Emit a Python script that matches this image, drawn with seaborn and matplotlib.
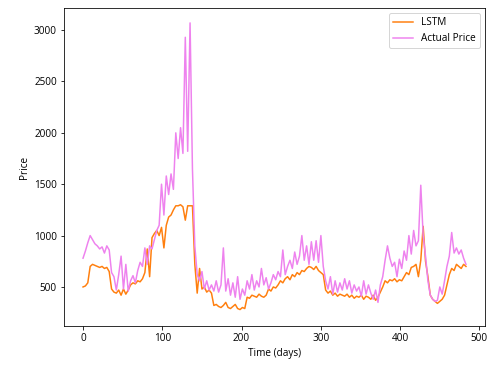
import numpy as np
import pandas as pd
import matplotlib
matplotlib.use("Agg")
import matplotlib.pyplot as plt
import seaborn as sns

# Sampled every 3 days (day 0 .. 483)
days = list(range(0, 484, 3))

actual_price = [
    780, 850, 930, 1000, 960, 920, 900, 870, 890, 830,
    900, 860, 640, 600, 470, 620, 800, 480, 720, 460,
    560, 610, 540, 660, 740, 700, 880, 720, 900, 870,
    960, 1050, 1100, 1500, 1200, 1580, 1400, 1600, 1450, 2000,
    1750, 2050, 1800, 2930, 1820, 3070, 1650, 900, 620, 560,
    650, 480, 560, 470, 520, 460, 560, 450, 520, 880,
    460, 580, 420, 540, 400, 600, 380, 480, 420, 560,
    480, 620, 470, 560, 500, 680, 520, 590, 480, 540,
    620, 570, 650, 600, 860, 620, 700, 760, 680, 840,
    720, 800, 1000, 760, 900, 720, 940, 760, 950, 740,
    1000, 700, 560, 480, 600, 430, 560, 450, 540, 470,
    580, 480, 560, 440, 520, 460, 500, 410, 560, 430,
    520, 440, 380, 470, 350, 520, 600, 760, 900, 780,
    700, 740, 600, 770, 680, 850, 760, 1000, 820, 1050,
    900, 950, 1490, 1000, 800, 560, 420, 380, 360, 370,
    500, 430, 560, 700, 800, 1030, 830, 880, 820, 860,
    780, 720,
]

lstm_pred = [
    500, 510, 540, 700, 720, 710, 700, 690, 700, 680,
    690, 650, 480, 450, 440, 470, 420, 480, 430, 470,
    520, 540, 530, 560, 550, 580, 640, 870, 600, 980,
    1020, 1050, 1000, 1080, 880, 1100, 1180, 1200, 1250, 1290,
    1290, 1300, 1280, 1150, 1290, 1290, 1290, 720, 440, 680,
    480, 500, 450, 470, 440, 320, 330, 310, 300, 320,
    350, 300, 290, 310, 330, 290, 280, 300, 290, 400,
    390, 420, 410, 400, 430, 410, 400, 420, 480, 460,
    500, 490, 520, 560, 540, 580, 600, 570, 620, 600,
    640, 620, 660, 650, 680, 700, 690, 670, 700, 660,
    640, 620, 470, 440, 460, 420, 440, 410, 430, 420,
    410, 430, 400, 420, 390, 410, 400, 420, 380, 410,
    400, 380, 420, 370, 400, 450, 500, 560, 540, 570,
    560, 580, 550, 570, 560, 600, 640, 620, 690, 700,
    720, 600, 760, 1090, 750, 600, 420, 380, 360, 340,
    360, 380, 420, 520, 620, 680, 660, 720, 700, 680,
    720, 700,
]

plt.rcParams['font.family'] = ['Open Sans', 'DejaVu Sans']
plt.rcParams['font.size'] = 10

df = pd.DataFrame({"day": days, "LSTM": lstm_pred, "Actual Price": actual_price})

fig = plt.figure(figsize=(488 / 72, 373 / 72), dpi=72)
ax = fig.add_axes([64 / 488, 1 - 326 / 373, (485 - 64) / 488, (326 - 8) / 373])

sns.lineplot(data=df, x="day", y="LSTM", ax=ax, color="#ff7f0e", label="LSTM", linewidth=1.5)
sns.lineplot(data=df, x="day", y="Actual Price", ax=ax, color="violet", label="Actual Price", linewidth=1.5)

ax.set_xlim(-24, 507)
ax.set_ylim(120, 3215)
ax.set_xticks([0, 100, 200, 300, 400, 500])
ax.set_yticks([500, 1000, 1500, 2000, 2500, 3000])
ax.set_xlabel("Time (days)")
ax.set_ylabel("Price")
ax.legend(loc="upper right")

fig.savefig("out.png", dpi=72)
